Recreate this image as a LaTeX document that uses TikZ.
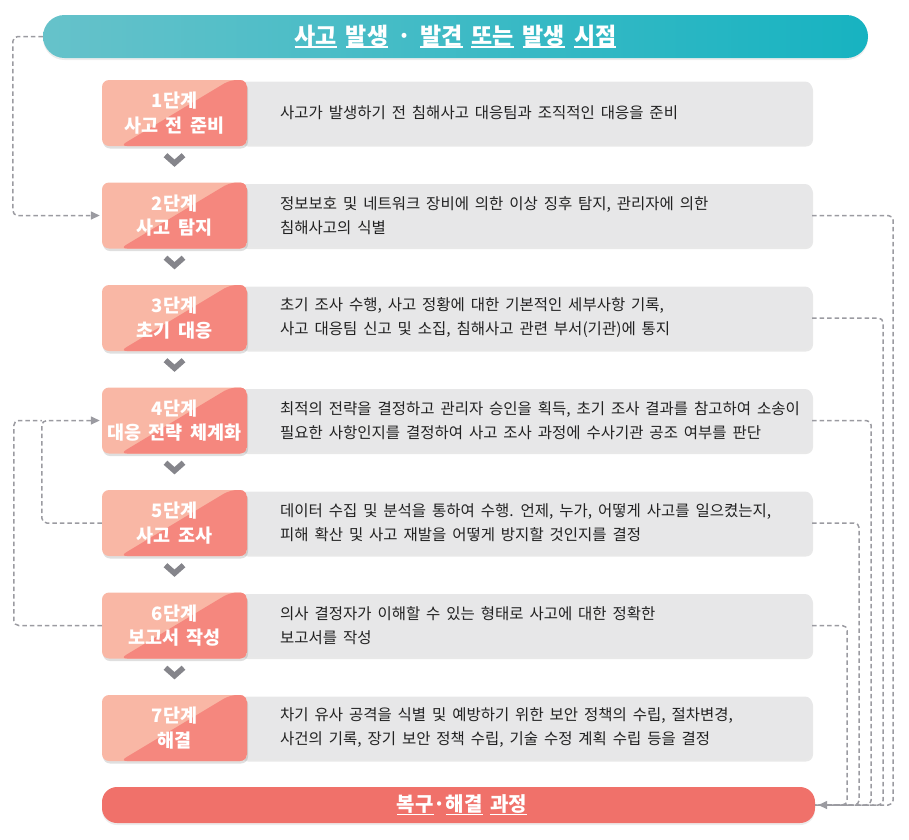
\documentclass[tikz,border=0pt]{standalone}
\usepackage{fontspec}
\setmainfont{Noto Sans CJK KR}[WordSpace=1.7]
\usetikzlibrary{shadows,calc,arrows.meta}
\definecolor{pinkL}{HTML}{F9B7A5}
\definecolor{pinkD}{HTML}{F5877E}
\definecolor{grayF}{HTML}{E7E7E8}
\definecolor{dashC}{HTML}{9B9BA1}
\definecolor{chevC}{HTML}{85858B}
\definecolor{tealL}{HTML}{66C2CA}
\definecolor{tealR}{HTML}{17B3C1}
\definecolor{coral}{HTML}{F0716A}
\definecolor{txt}{HTML}{222222}
\newcommand\myul[1]{\setbox0\hbox{#1}\rlap{\rule[-3.5pt]{\wd0}{1.6pt}}\copy0\relax}
\begin{document}
\begin{tikzpicture}[x=1pt,y=-1pt,
  pinkbox/.style={rounded corners=7pt, minimum width=145pt, minimum height=66pt, inner sep=0pt,
    fill=pinkL, text=white, align=center,
    font=\fontsize{18.5}{24.5}\selectfont\bfseries,
    path picture={\fill[pinkD] ([xshift=18pt]path picture bounding box.south west) --
      ([xshift=128pt]path picture bounding box.north west) --
      (path picture bounding box.north east) -- (path picture bounding box.south east) -- cycle;},
    drop shadow={opacity=0.25, shadow xshift=1pt, shadow yshift=-2.5pt}},
  graybox/.style={rounded corners=7pt, minimum width=572pt, minimum height=63pt, inner sep=0pt,
    fill=grayF, drop shadow={opacity=0.18, shadow xshift=1pt, shadow yshift=-2pt}},
  gtext/.style={font=\fontsize{15.5}{24}\selectfont, text=txt, align=left, inner sep=0pt, anchor=west},
  chev/.style={draw=chevC, line width=5.5pt, line cap=butt, line join=miter},
  dconn/.style={draw=dashC, line width=1.5pt, dash pattern=on 4.5pt off 3pt, rounded corners=5pt},
  tip/.style={-{Triangle[length=9pt,width=8pt]}, shorten >=2pt}
]
\useasboundingbox (0,0) rectangle (909,839);

% top banner
\node[rounded corners=21.5pt, minimum width=825pt, minimum height=43pt, inner sep=0pt,
  left color=tealL, right color=tealR, text=white,
  font=\fontsize{23}{26}\selectfont\bfseries,
  drop shadow={opacity=0.15, shadow xshift=0pt, shadow yshift=-2pt}]
  (top) at (455.5,36.5) {\myul{사고} \myul{발생} · \myul{발견} \myul{또는} \myul{발생} \myul{시점}};

% steps
\foreach \i/\a/\b/\t in {
 1/1단계/사고 전 준비/{사고가 발생하기 전 침해사고 대응팀과 조직적인 대응을 준비},
 2/2단계/사고 탐지/{정보보호 및 네트워크 장비에 의한 이상 징후 탐지, 관리자에 의한\\침해사고의 식별},
 3/3단계/초기 대응/{초기 조사 수행, 사고 정황에 대한 기본적인 세부사항 기록,\\사고 대응팀 신고 및 소집, 침해사고 관련 부서(기관)에 통지},
 4/4단계/대응 전략 체계화/{최적의 전략을 결정하고 관리자 승인을 획득, 초기 조사 결과를 참고하여 소송이\\필요한 사항인지를 결정하여 사고 조사 과정에 수사기관 공조 여부를 판단},
 5/5단계/사고 조사/{데이터 수집 및 분석을 통하여 수행. 언제, 누가, 어떻게 사고를 일으켰는지,\\피해 확산 및 사고 재발을 어떻게 방지할 것인지를 결정},
 6/6단계/보고서 작성/{의사 결정자가 이해할 수 있는 형태로 사고에 대한 정확한\\보고서를 작성},
 7/7단계/해결/{차기 유사 공격을 식별 및 예방하기 위한 보안 정책의 수립, 절차변경,\\사건의 기록, 장기 보안 정책 수립, 기술 수정 계획 수립 등을 결정}} {
  \pgfmathsetmacro\yy{113+102.5*(\i-1)}
  \node[graybox] (g\i) at (526,\yy) {};
  \node[gtext] (t\i) at (280,\yy) {\t};
  \node[pinkbox] (p\i) at (174.5,\yy) {\a\\\b};
}

% chevrons
\foreach \i in {1,...,6} {
  \draw[chev] ($(p\i.south)+(-9,9)$) -- ($(p\i.south)+(0,17)$) -- ($(p\i.south)+(9,9)$);
}

% bottom banner
\node[rounded corners=15pt, minimum width=713pt, minimum height=36pt, inner sep=0pt,
  fill=coral, text=white, font=\fontsize{20}{24}\selectfont\bfseries,
  drop shadow={opacity=0.15, shadow xshift=0pt, shadow yshift=-2pt}]
  (bot) at (458.5,805) {\hspace{7pt}\myul{복구}·\myul{해결} \myul{과정}};

% left connectors
\coordinate (lx1) at ($(top.west)+(-30,0)$);
\draw[dconn, tip] (top.west) -- (lx1) |- (p2.west);
\coordinate (lx2) at ($(p4.west)+(-60,0)$);
\coordinate (lx3) at ($(p4.west)+(-88,0)$);
\draw[dconn] (p6.west) -| (lx3) -- (lx2);
\draw[dconn, tip] (p5.west) -| (lx2) -- (p4.west);

% right connectors
\foreach \i/\dx in {2/78,3/68,4/56,5/44,6/32} {
  \coordinate (rx\i) at ($(bot.east)+(\dx,0)$);
  \draw[dconn] (g\i.east) -| (rx\i) -- (bot.east);
}
\draw[dconn, tip, shorten >=3pt] ($(bot.east)+(32,0)$) -- (bot.east);
\end{tikzpicture}
\end{document}
